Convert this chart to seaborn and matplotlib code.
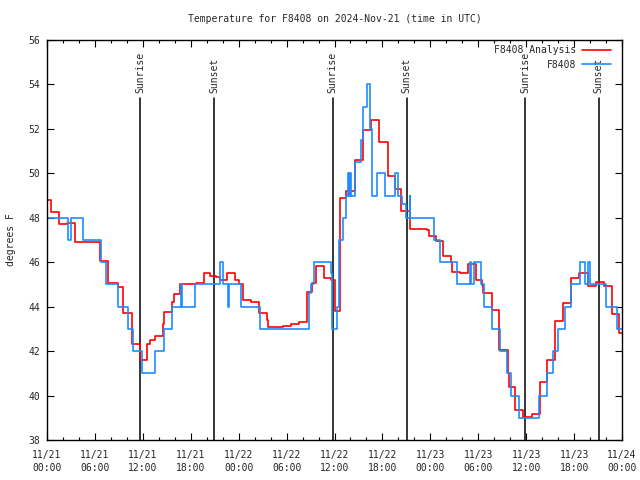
import matplotlib
matplotlib.use("Agg")
import matplotlib.pyplot as plt
import seaborn as sns
import pandas as pd
from matplotlib.ticker import MultipleLocator

# ---- data (hours since 2024-11-21 00:00 UTC, degrees F) ----
analysis_hours = [0.0, 0.5, 1.5, 2.5, 3.5, 6.6, 7.6, 8.9, 9.5, 10.6, 11.7, 12.5, 12.9, 13.5,
                  14.5, 14.6, 15.6, 15.9, 16.6, 18.6, 19.6, 20.4, 21.1, 21.6, 22.5, 23.6, 24.0,
                  24.5, 24.6, 25.6, 26.5, 27.6, 27.7, 29.6, 30.6, 31.5, 32.6, 33.2, 33.7, 34.7,
                  35.6, 36.0, 36.7, 37.5, 38.6, 39.6, 40.6, 41.6, 42.65, 43.6, 44.3, 45.5, 47.6,
                  47.8, 48.7, 49.6, 50.6, 50.7, 51.7, 52.7, 53.7, 54.5, 54.6, 55.7, 56.6, 57.7,
                  57.8, 58.6, 59.6, 60.7, 61.7, 62.6, 63.6, 64.6, 65.6, 66.6, 67.7, 68.7, 69.7,
                  70.7, 71.6, 72.0]
analysis_temps = [48.8, 48.25, 47.7, 47.75, 46.9, 46.07, 45.05, 44.9, 43.7, 42.3, 41.6, 42.3, 42.5, 42.7,
                  43.2, 43.75, 44.2, 44.55, 45.0, 45.05, 45.5, 45.4, 45.35, 45.2, 45.5, 45.2, 45.0,
                  44.6, 44.3, 44.2, 43.7, 43.4, 43.07, 43.15, 43.2, 43.3, 44.67, 45.05, 45.85, 45.3,
                  45.2, 43.8, 48.9, 49.2, 50.6, 51.95, 52.4, 51.4, 49.9, 49.3, 48.3, 47.5, 47.45,
                  47.2, 46.97, 46.3, 46.0, 45.55, 45.5, 45.9, 45.2, 44.97, 44.6, 43.85, 42.05, 41.0,
                  40.4, 39.35, 39.05, 39.15, 40.6, 41.6, 43.35, 44.15, 45.3, 45.5, 44.95, 45.1, 44.95,
                  43.65, 42.8, 42.8]

obs_hours = [0.0, 2.6, 3.0, 4.5, 6.8, 7.4, 8.9, 10.2, 10.8, 11.9, 13.5, 14.6, 15.6, 16.8, 16.95,
             18.5, 21.7, 22.0, 22.7, 22.85, 24.3, 26.7, 32.8, 33.1, 33.4, 35.5, 35.7, 36.3, 36.6,
             37.1, 37.5, 37.7, 37.8, 38.0, 38.1, 38.6, 39.3, 39.6, 40.1, 40.5, 40.7, 41.3, 42.3,
             43.6, 44.0, 44.4, 44.9, 45.4, 45.5, 48.5, 49.2, 51.3, 53.0, 53.1, 53.5, 54.4, 54.7,
             55.7, 56.7, 57.6, 58.1, 59.1, 61.6, 62.6, 63.4, 64.0, 64.8, 65.6, 66.7, 67.4, 67.7,
             67.95, 70.0, 71.4, 72.0]
obs_temps = [48, 47, 48, 47, 46, 45, 44, 43, 42, 41, 42, 43, 44, 45, 44,
             45, 46, 45, 44, 45, 44, 43, 44.6, 45, 46, 45.5, 43, 44, 47,
             48, 49, 50, 49, 50, 49, 50.5, 51.5, 53, 54, 52, 49, 50, 49,
             50, 49, 48.6, 48, 49, 48, 47, 46, 45, 46, 45, 46, 45, 44,
             43, 42, 41, 40, 39, 40, 41, 42, 43, 44, 45, 46, 45, 46,
             45, 44, 43, 43]

sun_hours = [11.67, 20.95, 35.76, 45.04, 59.85, 69.1]
sun_labels = ["Sunrise", "Sunset", "Sunrise", "Sunset", "Sunrise", "Sunset"]

tick_hours = list(range(0, 73, 6))
tick_labels = ["11/21\n00:00", "11/21\n06:00", "11/21\n12:00", "11/21\n18:00",
               "11/22\n00:00", "11/22\n06:00", "11/22\n12:00", "11/22\n18:00",
               "11/23\n00:00", "11/23\n06:00", "11/23\n12:00", "11/23\n18:00",
               "11/24\n00:00"]

title = "Temperature for F8408 on 2024-Nov-21 (time in UTC)"

# ---- plot ----
sns.set_style("white")
plt.rcParams["font.family"] = ["DejaVu Sans Mono", "DejaVu Sans"]
FS = 7

fig = plt.figure(figsize=(6.4, 4.8), dpi=100)
ax = fig.add_axes([47/640, 1-440/480, (622-47)/640, 400/480])

df_a = pd.DataFrame({"h": analysis_hours, "t": analysis_temps})
df_o = pd.DataFrame({"h": obs_hours, "t": obs_temps})

sns.lineplot(data=df_a, x="h", y="t", ax=ax, drawstyle="steps-post", color="#ff0000",
             linewidth=1.2, label="F8408 Analysis", estimator=None, sort=False)
sns.lineplot(data=df_o, x="h", y="t", ax=ax, drawstyle="steps-post", color="#1e8cff",
             linewidth=1.2, label="F8408", estimator=None, sort=False)

line_top = 53.39
for h, lab in zip(sun_hours, sun_labels):
    ax.plot([h, h], [38, line_top], color="black", linewidth=1.1, zorder=1)
    ax.text(h, 53.61, lab, rotation=90, ha="center", va="bottom", fontsize=FS)

ax.set_xlim(0, 72)
ax.set_ylim(38, 56)
ax.set_xticks(tick_hours)
ax.set_xticklabels(tick_labels, fontsize=FS, linespacing=1.4)
ax.xaxis.set_minor_locator(MultipleLocator(2))
ax.yaxis.set_major_locator(MultipleLocator(2))
ax.tick_params(axis="y", labelsize=FS, pad=5)
ax.tick_params(which="major", direction="in", length=5, width=0.8, top=True, right=True,
               bottom=True, left=True, color="black")
ax.tick_params(which="minor", direction="in", length=2.5, width=0.8, top=True, bottom=True,
               color="black")
ax.tick_params(axis="x", pad=7)
for s in ax.spines.values():
    s.set_visible(True)
    s.set_color("black")
    s.set_linewidth(1.0)

ax.set_xlabel("")
ax.set_ylabel("degrees F", fontsize=FS, labelpad=9)
ax.set_title(title, fontsize=FS, pad=13)

leg = ax.legend(loc="upper right", bbox_to_anchor=(0.981, 0.987), markerfirst=False,
                frameon=False, fontsize=FS, handlelength=3.0, handletextpad=0.6,
                labelspacing=0.45, borderaxespad=0.0, borderpad=0.0)

fig.savefig("out.png", dpi=100)
